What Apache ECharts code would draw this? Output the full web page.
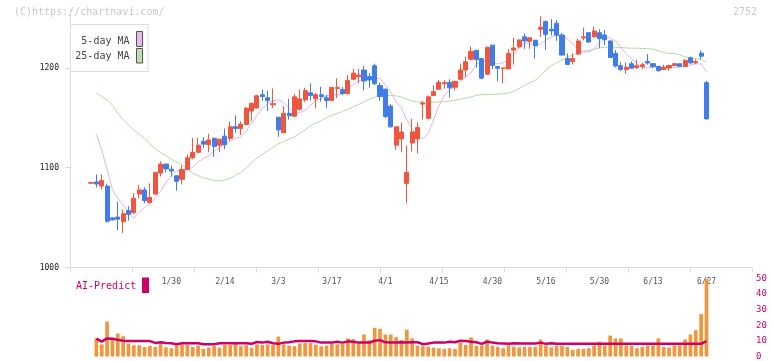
<!DOCTYPE html>
<html><head><meta charset="utf-8">
<script src="https://cdn.jsdelivr.net/npm/echarts@6.0.0/dist/echarts.min.js"></script>
<style>html,body{margin:0;padding:0;background:#fff}#c{width:772px;height:361px}</style>
</head><body><div id="c"></div>
<script>
const dates = ['1/8','1/9','1/10','1/14','1/15','1/16','1/17','1/20','1/21','1/22','1/23','1/24','1/27','1/28','1/29','1/30','1/31',
'2/3','2/4','2/5','2/6','2/7','2/10','2/12','2/13','2/14','2/17','2/18','2/19','2/20','2/21','2/25','2/26','2/27','2/28',
'3/3','3/4','3/5','3/6','3/7','3/10','3/11','3/12','3/13','3/14','3/17','3/18','3/19','3/21','3/24','3/25','3/26','3/27','3/28','3/31',
'4/1','4/2','4/3','4/4','4/7','4/8','4/9','4/10','4/11','4/14','4/15','4/16','4/17','4/18','4/21','4/22','4/23','4/24','4/25','4/28','4/30',
'5/1','5/2','5/7','5/8','5/9','5/12','5/13','5/14','5/15','5/16','5/19','5/20','5/21','5/22','5/23','5/26','5/27','5/28','5/29','5/30',
'6/2','6/3','6/4','6/5','6/6','6/9','6/10','6/11','6/12','6/13','6/16','6/17','6/18','6/19','6/20','6/23','6/24','6/25','6/26','6/27'];
const opens = [1084.5,1085.7,1081.6,1081.6,1049.7,1050.5,1045.9,1057.0,1054.9,1073.6,1077.7,1065.0,1073.6,1094.6,1103.6,1098.5,1091.9,
1088.4,1098.1,1109.9,1115.4,1126.4,1123.0,1129.5,1122.6,1131.6,1129.2,1141.0,1139.2,1143.3,1156.8,1159.9,1173.1,1170.0,1163.0,
1150.6,1135.0,1154.4,1151.6,1158.6,1167.9,1175.1,1169.2,1173.1,1170.0,1167.2,1179.3,1178.3,1174.1,1188.6,1191.0,1197.9,1191.4,1202.1,1182.4,
1178.6,1161.7,1122.6,1128.8,1084.3,1124.7,1128.8,1163.7,1149.5,1172.3,1178.6,1184.2,1185.5,1180.6,1188.6,1197.9,1208.6,1217.6,1209.3,1193.7,1222.8,
1201.4,1199.5,1199.0,1217.9,1221.1,1231.1,1226.6,1227.7,1238.7,1246.6,1238.7,1244.6,1232.9,1209.3,1206.5,1213.8,1230.1,1235.2,1231.1,1235.2,
1232.9,1227.0,1214.5,1202.1,1198.3,1204.2,1200.3,1201.4,1206.5,1204.2,1201.4,1198.3,1200.0,1202.4,1204.2,1201.4,1210.1,1205.2,1214.8,1185.2];
const closes = [1085.0,1083.6,1087.1,1046.3,1047.7,1048.4,1053.9,1053.2,1069.4,1077.7,1067.1,1070.2,1095.3,1103.6,1098.8,1096.7,1086.3,
1098.1,1109.9,1115.4,1122.6,1123.6,1127.8,1121.3,1128.5,1123.0,1141.0,1139.2,1143.7,1159.6,1164.5,1172.0,1171.3,1167.2,1164.1,
1137.8,1154.4,1152.0,1171.0,1168.9,1177.2,1172.3,1173.1,1171.3,1167.2,1180.3,1180.3,1174.1,1187.6,1194.8,1192.8,1186.9,1187.9,1184.2,1171.3,
1151.3,1140.9,1141.0,1135.7,1095.3,1135.8,1140.2,1164.8,1171.0,1176.2,1185.5,1185.2,1180.0,1186.5,1197.9,1206.2,1216.6,1208.3,1189.7,1220.7,1202.4,
1199.7,1200.0,1214.5,1220.0,1228.0,1227.0,1230.1,1222.1,1240.7,1233.5,1237.0,1232.7,1212.8,1203.4,1209.3,1227.0,1231.1,1225.9,1237.0,1229.3,
1228.3,1210.4,1201.8,1198.3,1200.7,1199.7,1202.1,1203.1,1204.9,1201.4,1197.2,1200.7,1202.4,1204.2,1201.4,1207.6,1204.9,1206.5,1211.7,1148.9];
const lows = [1084.0,1080.1,1078.0,1044.9,1047.0,1037.6,1034.5,1046.9,1053.9,1069.4,1064.3,1064.3,1072.9,1091.2,1095.3,1091.2,1077.0,
1083.2,1097.5,1108.5,1114.8,1119.5,1115.4,1110.9,1115.4,1118.5,1126.4,1135.0,1132.7,1142.7,1147.2,1159.3,1167.2,1156.8,1159.9,
1130.9,1134.5,1148.2,1151.0,1157.5,1166.1,1167.2,1159.9,1166.1,1159.9,1166.7,1169.6,1173.1,1173.6,1187.6,1184.5,1177.5,1180.0,1182.7,1166.8,
1149.5,1140.2,1117.8,1115.4,1064.3,1116.1,1114.3,1148.2,1148.9,1171.8,1178.0,1179.3,1170.3,1177.5,1187.6,1190.4,1207.6,1200.0,1188.6,1193.0,1199.0,
1186.9,1184.5,1198.5,1203.4,1219.7,1219.0,1219.0,1209.3,1231.1,1217.9,1232.5,1227.0,1212.5,1203.0,1203.4,1213.0,1227.5,1225.5,1230.5,1219.7,
1222.8,1210.0,1200.5,1197.2,1193.8,1199.0,1199.0,1199.0,1203.1,1199.7,1196.2,1197.8,1197.2,1202.0,1201.0,1201.0,1204.5,1203.8,1208.6,1148.2];
const highs = [1085.5,1093.3,1093.3,1083.9,1050.5,1066.0,1058.0,1061.5,1074.6,1082.6,1080.5,1084.3,1095.6,1106.4,1104.0,1102.3,1092.5,
1102.3,1113.3,1129.9,1129.9,1130.6,1134.0,1130.0,1129.0,1139.2,1146.4,1152.4,1146.4,1160.9,1165.1,1173.1,1178.3,1177.2,1179.3,
1151.0,1162.0,1168.9,1173.8,1178.3,1180.0,1184.5,1174.8,1181.0,1173.1,1180.8,1189.6,1181.0,1192.8,1199.0,1199.0,1201.8,1194.8,1204.2,1185.2,
1179.6,1163.7,1141.4,1145.4,1122.3,1148.9,1145.4,1166.8,1172.3,1182.7,1187.9,1187.6,1188.6,1187.0,1204.2,1211.1,1221.5,1218.0,1209.5,1221.0,1223.0,
1201.8,1200.3,1218.7,1230.1,1228.3,1234.2,1231.1,1228.0,1251.8,1247.0,1249.0,1247.7,1235.2,1214.5,1214.5,1229.3,1240.4,1236.0,1241.5,1238.7,
1237.8,1227.5,1217.9,1205.5,1205.5,1206.5,1208.3,1205.2,1213.8,1204.6,1202.4,1203.1,1203.1,1204.6,1204.6,1208.6,1211.4,1208.6,1217.6,1186.9];
const ma5 = ['-',1133.4,1117.8,1098.1,1078.0,1069.4,1062.5,1055.6,1049.4,1055.6,1060.1,1064.3,1069.4,1076.4,1085.0,1091.9,1097.1,
1098.1,1098.1,1100.5,1105.7,1109.1,1111.9,1116.1,1120.2,1123.0,1126.4,1129.2,1131.0,1136.5,1144.4,1152.4,1159.3,1164.1,1167.2,
1167.9,1165.5,1159.3,1155.1,1155.1,1157.5,1162.7,1166.8,1169.6,1172.0,1172.8,1173.4,1174.1,1180.0,1183.4,1186.9,1188.9,1189.3,1189.3,1189.3,
1183.0,1176.0,1166.0,1160.0,1148.0,1139.0,1132.0,1129.0,1134.0,1148.0,1162.0,1172.0,1178.0,1181.0,1187.0,1191.0,1195.0,1204.0,1207.0,1207.0,1205.0,
1204.0,1205.0,1208.0,1213.0,1220.0,1225.0,1224.0,1223.0,1224.0,1228.0,1231.0,1233.0,1232.0,1229.0,1224.0,1218.0,1216.0,1216.0,1219.0,1225.0,
1230.0,1230.0,1227.0,1220.0,1214.0,1209.0,1204.0,1201.0,1200.0,1201.0,1200.0,1200.0,1200.0,1200.0,1201.0,1202.0,1203.0,1204.0,1204.0,1196.0];
const ma25 = ['-',1174.8,1171.3,1167.9,1162.7,1154.7,1148.2,1142.7,1137.8,1133.4,1129.2,1124.1,1118.5,1115.4,1111.9,1108.5,1105.7,
1102.9,1098.8,1094.6,1091.9,1089.9,1088.4,1087.4,1086.7,1087.8,1089.4,1092.5,1095.2,1099.8,1104.7,1109.5,1113.3,1116.8,1120.5,
1124.1,1126.1,1128.8,1130.9,1134.4,1137.8,1142.0,1144.8,1147.2,1150.0,1152.4,1154.1,1156.5,1158.3,1161.0,1163.4,1166.1,1168.6,1170.7,1171.7,
1172.4,1172.4,1172.0,1170.7,1168.9,1166.8,1166.1,1165.5,1165.5,1165.5,1165.8,1166.1,1166.8,1167.5,1168.6,1169.6,1171.0,1172.4,1173.1,1173.4,1173.4,
1173.8,1174.1,1174.8,1176.5,1179.3,1182.4,1185.2,1187.6,1192.0,1197.9,1202.4,1205.2,1207.6,1210.7,1212.8,1215.2,1216.6,1217.3,1218.7,1220.0,
1220.7,1220.7,1220.7,1220.4,1220.0,1219.7,1219.7,1219.4,1219.4,1218.7,1217.3,1215.6,1214.5,1214.2,1213.1,1211.1,1210.1,1209.3,1208.3,1205.9];
const volume = ['-',11.6,7.8,22.4,12.0,14.7,13.0,8.4,7.2,7.2,6.1,6.8,6.1,8.9,5.9,5.3,7.2,
7.6,7.6,6.1,6.8,4.9,5.7,6.8,5.7,7.4,7.4,8.2,6.6,7.2,5.7,7.8,7.4,7.8,7.4,
12.8,7.8,7.0,6.6,8.4,8.6,8.6,7.6,6.6,7.0,8.2,7.8,8.2,11.6,11.1,9.5,14.1,10.5,18.4,17.8,
14.1,14.1,12.4,10.5,17.2,11.6,7.0,6.8,6.3,5.7,5.3,4.9,5.3,4.8,8.9,7.4,12.2,6.8,7.0,10.9,7.0,
6.1,5.3,7.0,6.3,5.9,6.1,6.1,6.1,10.9,7.0,5.9,6.8,6.8,6.1,4.3,4.9,4.9,5.3,7.0,9.5,
7.0,13.4,11.6,11.6,7.0,6.8,5.3,6.1,7.0,7.0,11.6,6.1,5.7,7.0,7.0,10.9,14.1,16.8,27.2,49.7];
const aiPredict = ['-',11.4,9.5,11.6,11.4,10.7,10.1,9.9,9.9,9.9,9.9,9.9,8.7,9.1,8.7,8.5,7.9,
8.5,8.5,8.5,8.5,7.9,7.9,7.9,8.5,8.5,8.5,8.5,8.5,8.5,8.1,9.3,8.9,9.5,8.5,
8.1,8.9,9.1,9.7,9.9,9.9,9.9,9.7,8.9,8.9,8.9,9.5,8.9,9.7,9.5,8.9,8.9,8.9,10.1,10.5,
9.1,8.9,8.9,9.1,8.9,9.1,9.1,7.9,8.3,8.9,8.9,8.9,9.5,9.1,10.1,9.9,9.5,9.1,8.1,9.5,8.9,
8.5,8.3,8.1,8.5,8.3,8.3,8.3,8.3,8.9,8.1,8.5,8.1,8.1,8.1,8.1,8.1,8.1,8.1,8.1,8.1,
8.1,8.1,8.1,8.1,8.1,8.1,8.1,8.1,8.1,8.1,8.1,8.1,8.1,8.1,8.1,8.1,8.1,8.1,8.1,9.9];
const xTickLabels = ['1/30','2/14','3/3','3/17','4/1','4/15','4/30','5/16','5/30','6/13','6/27'];
const priceTicks = [1000,1100,1200];
const volumeTicks = [0,10,20,30,40,50];

const PRE = 3, POST = 8;
const cats = [];
for (let i = 0; i < PRE; i++) cats.push('pre' + i);
dates.forEach(d => cats.push(d));
for (let i = 0; i < POST; i++) cats.push('post' + i);
function pad(arr, fill) {
  return [...Array(PRE).fill(fill), ...arr, ...Array(POST).fill(fill)];
}
const ohlc = pad(dates.map((d, i) => [opens[i], closes[i], lows[i], highs[i]]), ['-','-','-','-']);
const MONO = "'DejaVu Sans Mono', monospace";
const UP = '#f0553f', DOWN = '#417de9';

const chart = echarts.init(document.getElementById('c'), null, {renderer: 'canvas'});
chart.setOption({
  animation: false,
  backgroundColor: '#fff',
  tooltip: {show: false},
  grid: [
    {left: 70, right: 20, top: 8, bottom: 93.5},
    {left: 72.3, right: 20, top: 8, bottom: 93.5},
    {left: 72.3, right: 20, top: 278.5, bottom: 2.5}
  ],
  xAxis: [
    {type: 'value', gridIndex: 0, min: 0, max: 11, interval: 1,
     axisLine: {show: true, lineStyle: {color: '#ddd'}},
     axisTick: {show: true, length: 5, lineStyle: {color: '#ddd'}},
     axisLabel: {show: false}, splitLine: {show: false}},
    {type: 'category', gridIndex: 1, data: cats, boundaryGap: true,
     axisLine: {show: false}, axisTick: {show: false}, splitLine: {show: false},
     axisLabel: {show: true, interval: function (idx) { return xTickLabels.indexOf(cats[idx]) >= 0; },
       margin: 10, fontSize: 8, color: '#555', fontFamily: MONO}},
    {type: 'category', gridIndex: 2, data: cats, boundaryGap: true, show: false}
  ],
  yAxis: [
    {type: 'value', gridIndex: 0, min: priceTicks[0], max: 1260, interval: 100,
     axisLine: {show: true, lineStyle: {color: '#ddd'}},
     axisTick: {show: true, length: 5, lineStyle: {color: '#ddd'}},
     splitLine: {show: false},
     axisLabel: {margin: 11, fontSize: 8, color: '#222', fontFamily: MONO, showMaxLabel: false,
       formatter: function (v) { return priceTicks.indexOf(v) >= 0 ? String(v) : ''; }}},
    {type: 'value', gridIndex: 1, min: priceTicks[0], max: 1260, show: false, splitLine: {show: false}},
    {type: 'value', gridIndex: 2, position: 'right', min: volumeTicks[0], max: volumeTicks[volumeTicks.length - 1], interval: 10,
     axisLine: {show: false}, axisTick: {show: false}, splitLine: {show: false},
     axisLabel: {margin: 4, fontSize: 9, color: '#cc0066', fontFamily: MONO}}
  ],
  series: [
    {name: 'candle', type: 'candlestick', xAxisIndex: 1, yAxisIndex: 1, data: ohlc,
     barWidth: 4.6,
     itemStyle: {color: UP, color0: DOWN, borderColor: UP, borderColor0: DOWN, borderWidth: 1}},
    {name: '25-day MA', type: 'line', xAxisIndex: 1, yAxisIndex: 1, data: pad(ma25, '-'),
     showSymbol: false, symbol: 'none', lineStyle: {color: '#b2dca6', width: 1}, z: 1},
    {name: '5-day MA', type: 'line', xAxisIndex: 1, yAxisIndex: 1, data: pad(ma5, '-'),
     showSymbol: false, symbol: 'none', lineStyle: {color: '#e8b0e8', width: 1}, z: 1},
    {name: 'volume', type: 'bar', xAxisIndex: 2, yAxisIndex: 2, data: pad(volume, '-'),
     barWidth: 3.7, itemStyle: {color: '#f0963c'}},
    {name: 'AI-Predict', type: 'line', xAxisIndex: 2, yAxisIndex: 2, data: pad(aiPredict, '-'),
     showSymbol: false, symbol: 'none', lineStyle: {color: '#cc0066', width: 2.5}}
  ],
  graphic: [
    {type: 'text', x: 14, y: 12.5, style: {text: '(C)https://chartnavi.com/', font: "10px 'DejaVu Sans Mono'", fill: '#c8c8c8', verticalAlign: 'middle'}},
    {type: 'text', x: 757, y: 12.5, style: {text: '2752', font: "10px 'DejaVu Sans Mono'", fill: '#c8c8c8', align: 'right', verticalAlign: 'middle'}},
    {type: 'rect', shape: {x: 70.5, y: 24.5, width: 77.5, height: 47}, style: {fill: '#fff', stroke: '#ddd', lineWidth: 1}, z: 100},
    {type: 'text', x: 129.5, y: 41, style: {text: '5-day MA', font: "10px 'DejaVu Sans Mono'", fill: '#444', align: 'right', verticalAlign: 'middle'}, z: 101},
    {type: 'text', x: 129.5, y: 56.5, style: {text: '25-day MA', font: "10px 'DejaVu Sans Mono'", fill: '#444', align: 'right', verticalAlign: 'middle'}, z: 101},
    {type: 'rect', shape: {x: 136.5, y: 31.5, width: 6, height: 15}, style: {fill: '#ecb8ec', stroke: '#555', lineWidth: 1}, z: 101},
    {type: 'rect', shape: {x: 136.5, y: 48.5, width: 6, height: 14.5}, style: {fill: '#bcdcb2', stroke: '#555', lineWidth: 1}, z: 101},
    {type: 'text', x: 76, y: 286, style: {text: 'AI-Predict', font: "10px 'DejaVu Sans Mono'", fill: '#cc0066', verticalAlign: 'middle'}},
    {type: 'rect', shape: {x: 142, y: 277.5, width: 7, height: 15.5}, style: {fill: '#cc0066'}}
  ]
});
</script></body></html>
